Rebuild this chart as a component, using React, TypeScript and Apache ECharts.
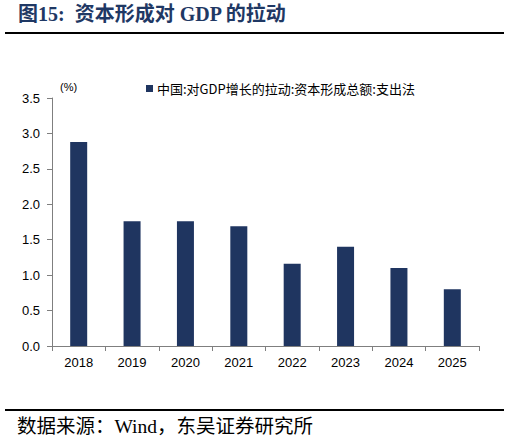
import React, { useEffect, useRef } from "react";
import * as echarts from "echarts";

const categories = ["2018", "2019", "2020", "2021", "2022", "2023", "2024", "2025"];
const values = [2.88, 1.76, 1.76, 1.69, 1.16, 1.4, 1.1, 0.8];
const seriesName = "中国:对GDP增长的拉动:资本形成总额:支出法";
const titleText = "图15:  资本形成对 GDP 的拉动";
const sourceText = "数据来源：Wind，东吴证券研究所";

export default function App() {
  const ref = useRef<HTMLDivElement>(null);
  useEffect(() => {
    const chart = echarts.init(ref.current!, undefined, { renderer: "svg" });
    chart.setOption({
      animation: false,
      backgroundColor: "#fff",
      grid: { left: 52, right: 31, top: 98, bottom: 98 },
      legend: {
        left: 141,
        top: 77,
        icon: "rect",
        itemWidth: 7,
        itemHeight: 7,
        itemGap: 4,
        textStyle: { fontSize: 13, color: "#000", fontFamily: "Noto Sans CJK SC, Liberation Sans", padding: [0, 0, 0, -1] },
        data: [seriesName],
      },
      xAxis: {
        type: "category",
        data: categories,
        axisLine: { lineStyle: { color: "#7f7f7f", width: 1 } },
        axisTick: { show: true, length: 5, lineStyle: { color: "#7f7f7f" } },
        axisLabel: { fontSize: 13, color: "#000", margin: 10, fontFamily: "Liberation Sans, Arial" },
      },
      yAxis: {
        type: "value",
        min: 0,
        max: 3.5,
        interval: 0.5,
        splitLine: { show: false },
        axisLine: { show: true, lineStyle: { color: "#7f7f7f", width: 1 } },
        axisTick: { show: true, length: 5, lineStyle: { color: "#7f7f7f" } },
        axisLabel: {
          fontSize: 13,
          color: "#000",
          margin: 12,
          fontFamily: "Liberation Sans, Arial",
          formatter: (v: number) => v.toFixed(1),
        },
      },
      series: [
        {
          name: seriesName,
          type: "bar",
          data: values,
          barWidth: 17,
          itemStyle: { color: "#1f3560" },
        },
      ],
      graphic: [
        {
          type: "text",
          left: 18,
          top: 4,
          style: {
            text: titleText,
            fontSize: 20,
            fontWeight: "bold",
            fill: "#1f3864",
            fontFamily: "Liberation Serif, Noto Sans CJK SC",
          },
        },
        {
          type: "rect",
          shape: { x: 5, y: 32, width: 499, height: 2 },
          style: { fill: "#000" },
        },
        {
          type: "text",
          left: 60,
          top: 81,
          style: { text: "(%)", fontSize: 11, fill: "#000", fontFamily: "Liberation Sans, Arial" },
        },
        {
          type: "rect",
          shape: { x: 5, y: 409, width: 499, height: 2 },
          style: { fill: "#000" },
        },
        {
          type: "text",
          left: 17,
          top: 417,
          style: {
            text: sourceText,
            fontSize: 19.5,
            fill: "#000",
            fontFamily: "Liberation Serif, Noto Sans CJK SC",
          },
        },
      ],
    });
    return () => chart.dispose();
  }, []);
  return (
    <div
      ref={ref}
      style={{ position: "absolute", left: 0, top: 0, width: 510, height: 444 }}
    />
  );
}
